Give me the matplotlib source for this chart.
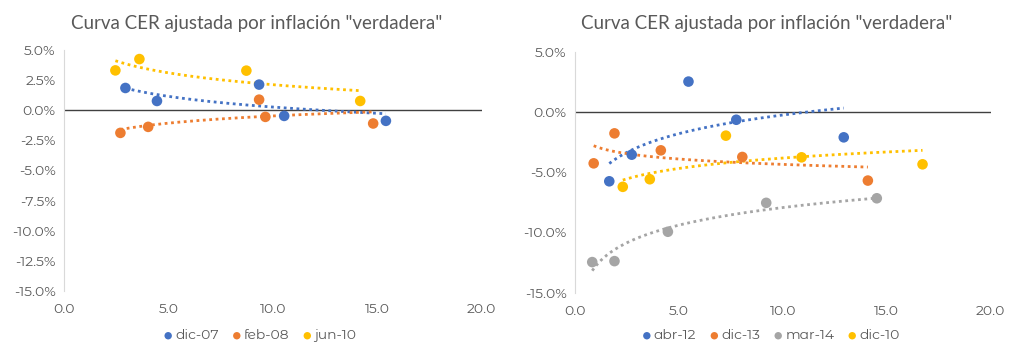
import numpy as np
import matplotlib
matplotlib.use("Agg")
import matplotlib.pyplot as plt
from matplotlib.ticker import FuncFormatter

plt.rcParams['font.family'] = ['Montserrat Alternates', 'Lato', 'DejaVu Sans']

TITLE = 'Curva CER ajustada por inflación "verdadera"'
BLUE, ORANGE, GRAY, YELLOW = '#4472C4', '#ED7D31', '#A5A5A5', '#FFC000'
TXT = '#595959'

# left chart (duration, real yield %)
left_names = ['dic-07', 'feb-08', 'jun-10']
left_x = [
    [2.94, 4.45, 9.34, 10.54, 15.41],
    [2.70, 4.03, 9.34, 9.64, 14.80],
    [2.46, 3.61, 8.73, 14.18],
]
left_y = [
    [1.85, 0.77, 2.13, -0.47, -0.88],
    [-1.88, -1.38, 0.88, -0.55, -1.10],
    [3.31, 4.25, 3.29, 0.77],
]

# right chart
right_names = ['abr-12', 'dic-13', 'mar-14', 'dic-10']
right_x = [
    [1.65, 2.73, 5.46, 7.76, 12.93],
    [0.90, 1.90, 4.13, 8.05, 14.09],
    [0.83, 1.90, 4.47, 9.20, 14.52],
    [2.30, 3.60, 7.26, 10.90, 16.72],
]
right_y = [
    [-5.75, -3.54, 2.53, -0.64, -2.10],
    [-4.26, -1.77, -3.18, -3.73, -5.69],
    [-12.46, -12.38, -9.94, -7.54, -7.16],
    [-6.21, -5.58, -1.96, -3.76, -4.34],
]


def draw(ax, names, xs, ys, colors, yticks):
    for name, x, y, c in zip(names, xs, ys, colors):
        x = np.array(x)
        y = np.array(y)
        # logarithmic trendline like excel
        a, b = np.polyfit(np.log(x), y, 1)
        xx = np.linspace(x.min(), x.max(), 200)
        ax.plot(xx, a * np.log(xx) + b, color=c, lw=2, ls=(0, (1, 1.3)), zorder=2)
        ax.scatter(x, y, s=58, color=c, zorder=3, label=name, edgecolors='none')
    ax.axhline(0, color='#404040', lw=1, zorder=1)
    ax.set_xlim(0, 20)
    ax.set_ylim(-15, 5)
    ax.set_xticks([0, 5, 10, 15, 20])
    ax.set_yticks(yticks)
    ax.xaxis.set_major_formatter(FuncFormatter(lambda v, p: f'{v:.1f}'))
    ax.yaxis.set_major_formatter(FuncFormatter(lambda v, p: f'{v:.1f}%'))
    for s in ['top', 'right', 'bottom']:
        ax.spines[s].set_visible(False)
    ax.spines['left'].set_color('#D9D9D9')
    ax.tick_params(length=0, labelsize=10, colors=TXT, pad=6)
    ax.tick_params(axis='x', pad=9)


fig = plt.figure(figsize=(10.24, 3.6), dpi=100)
ax1 = fig.add_axes([0.0625, 0.192, 0.408, 0.669])
ax2 = fig.add_axes([0.5615, 0.187, 0.406, 0.669])

draw(ax1, left_names, left_x, left_y, [BLUE, ORANGE, YELLOW], np.arange(-15, 5.1, 2.5))
draw(ax2, right_names, right_x, right_y, [BLUE, ORANGE, GRAY, YELLOW], np.arange(-15, 5.1, 5))

fig.text(0.251, 0.935, TITLE, ha='center', va='center', fontsize=13.5, color=TXT,
         family=['Lato', 'DejaVu Sans'])
fig.text(0.749, 0.935, TITLE, ha='center', va='center', fontsize=13.5, color=TXT,
         family=['Lato', 'DejaVu Sans'])

for ax, cx in [(ax1, 0.252), (ax2, 0.751)]:
    h, l = ax.get_legend_handles_labels()
    fig.legend(h, l, loc='center', bbox_to_anchor=(cx, 0.067), ncol=len(l), frameon=False,
               fontsize=10, labelcolor=TXT, handletextpad=-0.1, columnspacing=0.7,
               markerscale=0.7, handlelength=1.2)

fig.savefig('out.png', dpi=100, facecolor='white')
